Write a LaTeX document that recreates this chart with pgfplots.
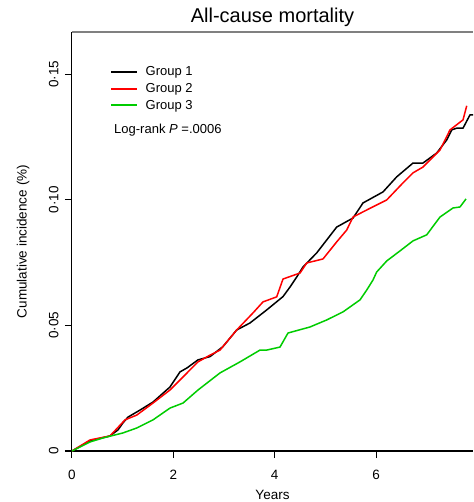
\documentclass[border=0pt]{standalone}
\usepackage{fontspec}
\setmainfont{Liberation Sans}
\usepackage{pgfplots}
\pgfplotsset{compat=1.18}
\begin{document}
\begin{tikzpicture}
\path[use as bounding box] (-72pt,-51pt) rectangle (401pt,451pt);
\begin{axis}[
  at={(0pt,0pt)}, anchor=south west,
  scale only axis, width=401pt, height=419pt,
  xmin=0, xmax=7.914, ymin=0, ymax=0.1669,
  axis x line*=bottom, axis y line*=left,
  axis line style={-, line width=1pt, black},
  tick align=outside, major tick length=7pt,
  tick style={line width=1pt, black},
  /pgf/number format/assume math mode=true,
  xtick={0,2,4,6}, xticklabels={0,2,4,6},
  ytick={0,0.05,0.1,0.15}, yticklabels={0,0·05,0·10,0·15},
  ticklabel style={font=\fontsize{13.5pt}{16pt}\selectfont},
  xticklabel style={anchor=base, yshift=-21pt},
  yticklabel style={rotate=90, anchor=base, yshift=6.7pt},
  xlabel={Years}, ylabel={Cumulative incidence (\%)},
  every axis x label/.style={at={(axis description cs:0.5,0)}, anchor=base, yshift=-48pt, font=\fontsize{13.5pt}{16pt}\selectfont},
  every axis y label/.style={at={([xshift=-45.3pt]axis description cs:0,0.5)}, rotate=90, anchor=base, font=\fontsize{13.5pt}{16pt}\selectfont},
  title={All-cause mortality},
  every axis title/.style={at={(axis description cs:0.5,1)}, anchor=base, yshift=9.3pt, font=\fontsize{20pt}{24pt}\selectfont},
  legend image code/.code={\draw[#1, line width=1.8pt] (0pt,0pt) -- (26pt,0pt);},
  legend cell align=left,
  legend style={draw=none, fill=none, at={(axis description cs:0.0948,0.922)}, anchor=north west, inner sep=0pt, row sep=2pt, font=\fontsize{13pt}{15pt}\selectfont, /tikz/every odd column/.append style={column sep=5.7pt}},
]
\addlegendimage{black}
\addlegendentry{Group 1}
\addlegendimage{red}
\addlegendentry{Group 2}
\addlegendimage{green!80!black}
\addlegendentry{Group 3}
\addplot[black, line width=1.5pt, line join=round, forget plot] coordinates {(0,0) (0.355,0.0040) (0.750,0.0060) (0.908,0.0084) (1.006,0.0112) (1.105,0.0135) (1.342,0.0163) (1.599,0.0195) (1.934,0.0255) (2.131,0.0315) (2.270,0.0331) (2.487,0.0363) (2.724,0.0376) (2.980,0.0416) (3.250,0.0482) (3.513,0.0510) (3.843,0.0562) (4.164,0.0615) (4.302,0.0653) (4.435,0.0693) (4.559,0.0733) (4.829,0.0789) (5.224,0.0892) (5.546,0.0928) (5.743,0.0988) (6.138,0.1032) (6.408,0.1092) (6.730,0.1147) (6.927,0.1147) (7.198,0.1187) (7.395,0.1239) (7.494,0.1279) (7.592,0.1286) (7.717,0.1286) (7.855,0.1339) (7.914,0.1339)};
\addplot[red, line width=1.5pt, line join=round, forget plot] coordinates {(0,0) (0.355,0.0044) (0.750,0.0060) (1.046,0.0124) (1.277,0.0143) (1.599,0.0191) (1.934,0.0243) (2.191,0.0295) (2.487,0.0355) (2.724,0.0382) (2.921,0.0402) (3.250,0.0482) (3.572,0.0550) (3.770,0.0594) (4.040,0.0614) (4.164,0.0685) (4.500,0.0709) (4.632,0.0749) (4.954,0.0765) (5.224,0.0833) (5.421,0.0880) (5.546,0.0932) (5.816,0.0960) (6.211,0.1000) (6.532,0.1068) (6.730,0.1108) (6.927,0.1131) (7.263,0.1199) (7.460,0.1279) (7.717,0.1319) (7.790,0.1375)};
\addplot[green!80!black, line width=1.5pt, line join=round, forget plot] coordinates {(0,0) (0.355,0.0036) (0.612,0.0052) (1.006,0.0072) (1.283,0.0092) (1.599,0.0124) (1.934,0.0171) (2.191,0.0191) (2.487,0.0243) (2.921,0.0311) (3.316,0.0355) (3.710,0.0402) (3.843,0.0402) (4.105,0.0414) (4.263,0.0470) (4.697,0.0494) (5.027,0.0522) (5.348,0.0554) (5.684,0.0602) (5.816,0.0641) (5.940,0.0681) (6.013,0.0713) (6.211,0.0757) (6.473,0.0797) (6.730,0.0837) (7.000,0.0861) (7.263,0.0932) (7.519,0.0968) (7.657,0.0972) (7.776,0.1004)};
\draw[gray, line width=1.2pt] (rel axis cs:0,1) -- (rel axis cs:1,1);
\node[anchor=base west, font=\fontsize{13pt}{15pt}\selectfont] at (axis description cs:0.0965,0.7566) {Log-rank \textit{P} =.0006};
\end{axis}
\end{tikzpicture}
\end{document}
